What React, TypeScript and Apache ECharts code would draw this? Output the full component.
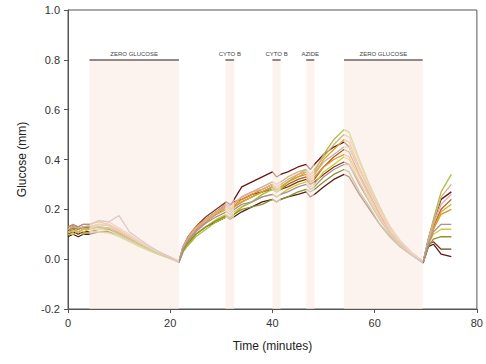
import React, { useEffect, useRef } from "react";
import * as echarts from "echarts";

const times = [0, 1, 2, 3, 4.2, 6, 8, 10, 12, 14, 16, 18, 20, 21.7, 22.5, 23.5, 25, 27, 29, 31, 31.7, 32.5, 34, 36, 38, 40, 40.8, 41.6, 43, 45, 46.6, 47.4, 48.2, 50, 52, 54, 55, 57, 59, 61, 63, 65, 67, 69.5, 70.5, 71.5, 73, 75];

const s1 = [0.10, 0.11, 0.10, 0.11, 0.11, 0.12, 0.12, 0.10, 0.08, 0.06, 0.04, 0.02, 0.005, -0.01, 0.04, 0.08, 0.12, 0.16, 0.19, 0.22, 0.21, 0.24, 0.29, 0.31, 0.33, 0.35, 0.33, 0.34, 0.35, 0.37, 0.38, 0.36, 0.38, 0.42, 0.45, 0.47, 0.45, 0.36, 0.28, 0.20, 0.13, 0.07, 0.03, -0.01, 0.08, 0.15, 0.24, 0.27];
const s2 = [0.09, 0.10, 0.09, 0.10, 0.10, 0.11, 0.11, 0.095, 0.075, 0.055, 0.035, 0.018, 0.003, -0.012, 0.03, 0.06, 0.10, 0.13, 0.15, 0.17, 0.16, 0.17, 0.19, 0.21, 0.23, 0.24, 0.23, 0.24, 0.25, 0.26, 0.27, 0.25, 0.26, 0.29, 0.32, 0.34, 0.33, 0.26, 0.20, 0.14, 0.09, 0.05, 0.02, -0.015, 0.05, 0.06, 0.02, 0.01];
const s3 = [0.11, 0.12, 0.11, 0.12, 0.12, 0.13, 0.125, 0.105, 0.085, 0.06, 0.04, 0.02, 0.004, -0.01, 0.05, 0.09, 0.13, 0.17, 0.20, 0.23, 0.22, 0.23, 0.24, 0.26, 0.27, 0.29, 0.27, 0.28, 0.29, 0.31, 0.32, 0.30, 0.31, 0.34, 0.37, 0.39, 0.38, 0.30, 0.23, 0.16, 0.10, 0.06, 0.025, -0.012, 0.06, 0.07, 0.04, 0.04];
const s4 = [0.12, 0.13, 0.12, 0.13, 0.13, 0.14, 0.135, 0.11, 0.09, 0.065, 0.042, 0.022, 0.006, -0.01, 0.04, 0.08, 0.12, 0.15, 0.18, 0.21, 0.20, 0.21, 0.23, 0.25, 0.27, 0.28, 0.27, 0.28, 0.30, 0.32, 0.33, 0.31, 0.32, 0.37, 0.41, 0.44, 0.43, 0.34, 0.26, 0.18, 0.11, 0.06, 0.025, -0.01, 0.07, 0.13, 0.20, 0.24];
const s5 = [0.13, 0.14, 0.13, 0.14, 0.14, 0.15, 0.14, 0.115, 0.09, 0.065, 0.045, 0.025, 0.008, -0.008, 0.05, 0.09, 0.13, 0.16, 0.19, 0.21, 0.20, 0.215, 0.24, 0.26, 0.28, 0.30, 0.28, 0.29, 0.31, 0.33, 0.34, 0.32, 0.33, 0.37, 0.40, 0.42, 0.41, 0.33, 0.25, 0.17, 0.11, 0.06, 0.025, -0.01, 0.06, 0.12, 0.18, 0.20];
const s6 = [0.12, 0.12, 0.13, 0.12, 0.13, 0.14, 0.135, 0.11, 0.088, 0.064, 0.043, 0.023, 0.006, -0.01, 0.04, 0.07, 0.11, 0.15, 0.18, 0.20, 0.19, 0.21, 0.23, 0.25, 0.27, 0.29, 0.28, 0.29, 0.31, 0.33, 0.35, 0.33, 0.34, 0.40, 0.44, 0.48, 0.47, 0.37, 0.28, 0.19, 0.12, 0.07, 0.03, -0.01, 0.07, 0.12, 0.19, 0.22];
const s7 = [0.11, 0.11, 0.12, 0.11, 0.12, 0.12, 0.115, 0.095, 0.075, 0.055, 0.035, 0.018, 0.004, -0.01, 0.03, 0.06, 0.10, 0.13, 0.16, 0.18, 0.17, 0.19, 0.21, 0.23, 0.25, 0.26, 0.25, 0.26, 0.28, 0.30, 0.31, 0.29, 0.30, 0.35, 0.38, 0.41, 0.40, 0.31, 0.24, 0.16, 0.10, 0.055, 0.02, -0.01, 0.06, 0.10, 0.12, 0.12];
const s8 = [0.10, 0.10, 0.11, 0.10, 0.11, 0.11, 0.105, 0.09, 0.07, 0.05, 0.032, 0.016, 0.002, -0.012, 0.03, 0.055, 0.09, 0.12, 0.15, 0.17, 0.165, 0.18, 0.21, 0.23, 0.26, 0.28, 0.27, 0.28, 0.31, 0.34, 0.36, 0.34, 0.35, 0.42, 0.48, 0.52, 0.51, 0.40, 0.30, 0.21, 0.13, 0.07, 0.03, -0.012, 0.08, 0.16, 0.27, 0.34];
const s9 = [0.12, 0.125, 0.12, 0.13, 0.125, 0.13, 0.125, 0.10, 0.08, 0.058, 0.038, 0.02, 0.004, -0.01, 0.035, 0.065, 0.10, 0.13, 0.155, 0.175, 0.165, 0.18, 0.20, 0.21, 0.22, 0.24, 0.23, 0.24, 0.25, 0.27, 0.28, 0.27, 0.28, 0.31, 0.34, 0.36, 0.35, 0.27, 0.21, 0.14, 0.09, 0.05, 0.02, -0.01, 0.05, 0.08, 0.09, 0.09];
const s10 = [0.11, 0.115, 0.11, 0.12, 0.12, 0.14, 0.14, 0.12, 0.095, 0.07, 0.046, 0.025, 0.008, -0.008, 0.045, 0.08, 0.12, 0.155, 0.185, 0.21, 0.20, 0.22, 0.25, 0.27, 0.29, 0.31, 0.30, 0.31, 0.33, 0.35, 0.36, 0.34, 0.36, 0.41, 0.46, 0.50, 0.49, 0.39, 0.29, 0.20, 0.13, 0.075, 0.03, -0.01, 0.08, 0.15, 0.25, 0.30];
const s11 = [0.12, 0.13, 0.125, 0.13, 0.135, 0.155, 0.15, 0.125, 0.10, 0.072, 0.048, 0.026, 0.008, -0.01, 0.05, 0.085, 0.125, 0.16, 0.19, 0.22, 0.21, 0.225, 0.25, 0.27, 0.28, 0.30, 0.29, 0.30, 0.32, 0.34, 0.35, 0.33, 0.34, 0.39, 0.42, 0.45, 0.45, 0.36, 0.27, 0.19, 0.12, 0.07, 0.03, -0.01, 0.07, 0.14, 0.22, 0.26];
const s12 = [0.13, 0.135, 0.13, 0.14, 0.14, 0.155, 0.15, 0.175, 0.11, 0.08, 0.052, 0.028, 0.008, -0.012, 0.04, 0.075, 0.11, 0.145, 0.17, 0.19, 0.18, 0.20, 0.22, 0.23, 0.25, 0.26, 0.25, 0.26, 0.27, 0.29, 0.30, 0.28, 0.29, 0.33, 0.36, 0.38, 0.38, 0.31, 0.23, 0.16, 0.10, 0.055, 0.02, -0.012, 0.06, 0.11, 0.14, 0.14];

const seriesValues = [s1, s2, s3, s4, s5, s6, s7, s8, s9, s10, s11, s12];
const seriesColors = ["#6b1414", "#5a1a14", "#7d3a1a", "#b0601c", "#e0902a", "#d4a830", "#d6c830", "#a8c038", "#8c9030", "#d8b080", "#e0a898", "#a89098"];

const treatments = [
  { name: "ZERO GLUCOSE", start: 4.2, end: 21.7 },
  { name: "CYTO B", start: 30.8, end: 32.5 },
  { name: "CYTO B", start: 40.0, end: 41.6 },
  { name: "AZIDE", start: 46.6, end: 48.2 },
  { name: "ZERO GLUCOSE", start: 54.0, end: 69.4 },
];
const barLevel = 0.8;

const yTicks = [-0.2, 0.0, 0.2, 0.4, 0.6, 0.8, 1.0];

export default function App() {
  const ref = useRef<HTMLDivElement>(null);
  useEffect(() => {
    if (!ref.current) return;
    const chart = echarts.init(ref.current, undefined, { renderer: "svg" });
    const font = "Liberation Sans, Arial, sans-serif";
    const lineSeries = seriesValues.map((vals, i) => ({
      type: "line",
      data: times.map((t, k) => [t, vals[k]]),
      symbol: "none",
      z: 2,
      lineStyle: { color: seriesColors[i], width: 1.3 },
      itemStyle: { color: seriesColors[i] },
    }));
    chart.setOption({
      animation: false,
      grid: { left: 68, right: 5, top: 10, bottom: 55, show: true, borderColor: "#555", borderWidth: 1 },
      xAxis: {
        type: "value",
        min: 0,
        max: 80,
        interval: 20,
        name: "Time (minutes)",
        nameLocation: "middle",
        nameGap: 31,
        nameTextStyle: { fontFamily: font, fontSize: 12, color: "#222" },
        axisLine: { show: true, onZero: false, lineStyle: { color: "#555" } },
        axisTick: { show: true, length: 4, lineStyle: { color: "#555" } },
        axisLabel: { fontFamily: font, fontSize: 11, color: "#333", margin: 8 },
        splitLine: { show: false },
      },
      yAxis: {
        type: "value",
        min: -0.2,
        max: 1.0,
        interval: 0.2,
        name: "Glucose (mm)",
        nameLocation: "middle",
        nameGap: 40,
        nameTextStyle: { fontFamily: font, fontSize: 12, color: "#222" },
        axisLine: { show: true, onZero: false, lineStyle: { color: "#555" } },
        axisTick: { show: true, length: 4, lineStyle: { color: "#555" } },
        axisLabel: {
          fontFamily: font,
          fontSize: 11,
          color: "#333",
          margin: 8,
          formatter: (v: number) => {
            const m = yTicks.find((t) => Math.abs(t - v) < 1e-6);
            return (m !== undefined ? m : v).toFixed(1);
          },
        },
        splitLine: { show: false },
      },
      series: [
        ...lineSeries,
        {
          type: "line",
          data: [],
          z: 5,
          silent: true,
          markArea: {
            silent: true,
            z: 4,
            itemStyle: { color: "rgb(252,236,228)", opacity: 0.62 },
            data: treatments.map((tr) => [
              { xAxis: tr.start, yAxis: -0.2 },
              { xAxis: tr.end, yAxis: barLevel },
            ]),
          },
          markLine: {
            silent: true,
            z: 6,
            symbol: ["none", "none"],
            lineStyle: { color: "#666", width: 1.5, type: "solid" },
            label: {
              show: true,
              position: "insideMiddleTop",
              distance: 3,
              fontFamily: font,
              fontSize: 6,
              color: "#444",
              formatter: (p: any) => p.data.name ?? p.name,
            },
            data: treatments.map((tr) => [
              { coord: [tr.start, barLevel], name: tr.name },
              { coord: [tr.end, barLevel] },
            ]),
          },
        },
      ],
    });
    return () => chart.dispose();
  }, []);
  return <div ref={ref} style={{ width: 486, height: 364, position: "absolute", left: 0, top: 0 }} />;
}
